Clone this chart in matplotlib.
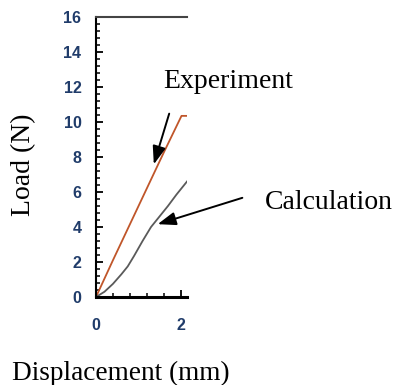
import matplotlib
matplotlib.use("Agg")
import matplotlib.pyplot as plt
from matplotlib.ticker import MultipleLocator

# datos
exp_x = [0.0, 0.4, 0.8, 1.2, 1.6, 2.02, 2.3]
exp_y = [0.0, 2.1, 4.15, 6.2, 8.25, 10.35, 10.35]

calc_x = [0.0, 0.2, 0.4, 0.6, 0.75, 0.9, 1.1, 1.3, 1.5, 1.7, 1.9, 2.15]
calc_y = [0.0, 0.3, 0.75, 1.3, 1.75, 2.35, 3.2, 4.0, 4.6, 5.2, 5.85, 6.6]

serif = "Liberation Serif"

fig = plt.figure(figsize=(3.96, 3.85), dpi=100)
ax = fig.add_axes([96 / 396, 88 / 385, 91 / 396, 280 / 385])

ax.plot(exp_x, exp_y, color="#c0562a", lw=1.3)
ax.plot(calc_x, calc_y, color="#5a5a5a", lw=1.3)

ax.set_xlim(0, 2.15)
ax.set_ylim(0, 16)
ax.xaxis.set_major_locator(MultipleLocator(2))
ax.xaxis.set_minor_locator(MultipleLocator(0.4))
ax.yaxis.set_major_locator(MultipleLocator(2))
ax.yaxis.set_minor_locator(MultipleLocator(0.4))

ax.spines["right"].set_visible(False)
ax.spines["left"].set_linewidth(1.5)
ax.spines["bottom"].set_linewidth(2.2)
ax.spines["top"].set_linewidth(1.5)
ax.spines["top"].set_color("#444444")

ax.tick_params(which="both", direction="in", top=False, right=False)
ax.tick_params(which="major", length=5, width=1.3)
ax.tick_params(which="minor", length=3, width=1.1)
ax.tick_params(axis="y", which="major", pad=10.5)
ax.tick_params(axis="x", which="major", pad=15)
for lab in ax.get_xticklabels() + ax.get_yticklabels():
    lab.set_fontfamily("Liberation Sans")
    lab.set_fontweight("bold")
    lab.set_fontsize(11.5)
    lab.set_color("#203c6a")

fig.text(0.06, 0.571, "Load (N)", rotation=90, ha="center", va="center",
         fontfamily=serif, fontsize=20)
fig.text(0.03, 0.03, "Displacement (mm)", ha="left", va="center",
         fontfamily=serif, fontsize=19.6)

fig.text(163 / 396, 1 - 82 / 385, "Experiment", ha="left", va="center",
         fontfamily=serif, fontsize=20)
fig.text(265 / 396, 1 - 203 / 385, "Calculation", ha="left", va="center",
         fontfamily=serif, fontsize=20)

arrow = dict(arrowstyle="-|>,head_length=1.1,head_width=0.4", color="black", lw=1.4)
ax.annotate("", xy=(153 / 396, 1 - 167 / 385), xycoords="figure fraction",
            xytext=(170 / 396, 1 - 111 / 385), textcoords="figure fraction",
            arrowprops=arrow, annotation_clip=False)
ax.annotate("", xy=(155 / 396, 1 - 225 / 385), xycoords="figure fraction",
            xytext=(245 / 396, 1 - 197 / 385), textcoords="figure fraction",
            arrowprops=arrow, annotation_clip=False)

fig.savefig("out.png", dpi=100)
